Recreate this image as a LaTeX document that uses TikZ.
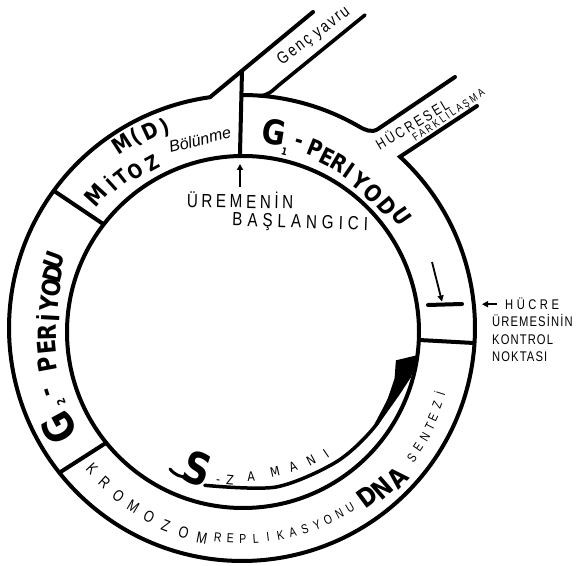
\documentclass[tikz,border=0pt]{standalone}
\usepackage{fontspec}
\setmainfont{Liberation Sans}
\newfontfamily\hand[FakeStretch=0.8]{Liberation Sans}
\newfontfamily\handbf[FakeStretch=0.85]{DejaVu Sans}
\usetikzlibrary{calc,arrows.meta}
\newcommand\arcletters[5]{%
  \foreach \ch/\aa/\rr [count=\k] in {#5}{%
    \node[#4, rotate={\aa+(#3)}] (#1\k) at ($(#2)+(\aa:\rr)$) {\ch};
  }%
}
\tikzset{
  ring/.style={line width=4pt},
  wall/.style={line width=3.6pt, line cap=round},
  hbf/.style={font={\handbf\bfseries\fontsize{#1}{#1}\selectfont}, inner sep=0pt},
  hm/.style={font={\handbf\fontsize{#1}{#1}\selectfont}, inner sep=0pt},
  hn/.style={font={\hand\fontsize{#1}{#1}\selectfont}, inner sep=0pt},
  tip/.style={-{Triangle[length=6pt,width=6pt]}},
}
\begin{document}
\begin{tikzpicture}[x=1pt,y=1pt]
\useasboundingbox (0,0) rectangle (578,565);
\coordinate (O) at (242,237);
\coordinate (I) at (243,233);

% inner circle
\draw[ring] (I) circle[radius=176pt];

% main outer contour with channel walls
\coordinate (hl) at (477,459);
\coordinate (gl) at (313,553);
\draw[ring, line cap=round] (hl) -- ($(O)+(47.3:233)$) arc[start angle=47.3, end angle=-262.1, radius=233pt] -- (gl);

% G1 top arc and upper wall of the differentiation channel
\coordinate (hu) at (455,488);
\draw[ring, line cap=round] ($(O)+(90:233)$) arc[start angle=90, end angle=60, radius=233pt] to[out=-30,in=213] (378,436) -- (hu);

% right wall of the offspring channel
\coordinate (gr) at (365,550);
\draw[wall] (gr) -- (279,480) to[out=221,in=-5] ($(O)+(86:233)$);

% dividers
\coordinate (dtop) at (242,494.3);
\draw[ring] ($(I)+(91:176)$) -- (dtop);
\draw[ring] ($(O)+(143.9:233)$) -- ($(I)+(142.3:176)$);
\draw[ring] ($(O)+(218.4:233)$) -- ($(I)+(219:176)$);
\draw[ring] ($(O)+(-3.7:233)$) -- ($(I)+(-2.6:176)$);

% S-phase inner arc and wedge
\begin{scope}[shift={(243,233)}]
  \draw[line width=3.5pt, line cap=round] plot[smooth] coordinates {(256:158) (282:158.5) (306:160) (325:162.3) (340:161)};
  \fill (325:160.5) -- (335:159.5) -- (343:158.5) -- (349.5:155.5) -- (352.5:176.5) -- (345:174) -- (338:168.5) -- (331:165) -- (325:164) -- cycle;
\end{scope}

% G1 label
\node[hbf=34, rotate=-9.3] (G1g) at ($(O)+(80.7:198.6)$) {G};
\node[hbf=10, rotate=-13.5] (G1s) at ($(O)+(76.5:181)$) {1};
\arcletters{gone}{O}{-90}{hbf=23}{-/72.8/193, P/67.9/194, E/63.6/191, R/59.5/191, I/55.7/190, Y/51.2/188, O/45.6/188, D/40/190, U/35/195}

% G2 label
\node[hbf=42, rotate=118.6] (G2g) at ($(O)+(208.6:208.5)$) {G};
\node[hbf=11, rotate=112.2] (G2s) at ($(O)+(202.2:195.5)$) {2};
\arcletters{gtwo}{O}{-90}{hbf=25}{-/198.4/202, P/190.5/198, E/185.6/196, R/181.2/195, İ/176.9/194, Y/172.9/194.5, O/168.2/195, D/163.8/197, U/160.1/200}

% M(D) MITOZ
\arcletters{md}{O}{-90}{hbf=22}{M/123.1/219.7, {(}/119/218, D/115/217, {)}/111/215}
\node[hbf=24, rotate=47.7] (mitM) at ($(O)+(137.7:197.5)$) {M};
\arcletters{mit}{O}{-90}{hbf=20}{İ/132.3/195, T/128.5/193, O/124.3/190, Z/118.6/188}
\node[font={\itshape\fontsize{16}{16}\selectfont}, inner sep=0pt, rotate=14] (bol) at ($(O)+(102.6:193)$) {Bölünme};

% start of reproduction
\node[font={\hand\fontsize{19}{19}\selectfont\addfontfeature{LetterSpace=19}}, inner sep=0pt, anchor=base, rotate=-1] (ure) at (240,357) {ÜREMENİN};
\node[font={\hand\fontsize{19}{19}\selectfont\addfontfeature{LetterSpace=26}}, inner sep=0pt, anchor=base, rotate=-2] (bas) at (300,337) {BAŞLANGICI};
\coordinate (ua) at (240,378);
\coordinate (ub) at (240,401);
\draw[line width=1.6pt, tip] (ua) -- (ub);

% channels
\node[font={\hand\fontsize{17}{17}\selectfont\addfontfeature{LetterSpace=12}}, inner sep=0pt, rotate=37] (genc) at (314,529) {Genç yavru};
\node[font={\hand\fontsize{15}{15}\selectfont\addfontfeature{LetterSpace=16}}, inner sep=0pt, rotate=31] (huc) at (412,441) {HÜCRESEL};
\node[font={\hand\fontsize{11}{11}\selectfont\addfontfeature{LetterSpace=22}}, inner sep=0pt, rotate=34] (far) at (449,449) {FARKLILAŞMA};

% checkpoint
\coordinate (cb1) at (428,260);
\coordinate (cb2) at (462,261);
\draw[line width=4pt, line cap=round] (cb1) -- (cb2);
\coordinate (ca) at (432,303);
\coordinate (cc) at (442,263.5);
\draw[line width=1.8pt, tip] (ca) -- (cc);

\node[font={\hand\fontsize{14}{14}\selectfont\addfontfeature{LetterSpace=25}}, inner sep=0pt, anchor=base west] (k1) at (505,255) {HÜCRE};
\node[font={\hand\fontsize{14}{14}\selectfont\addfontfeature{LetterSpace=8}}, inner sep=0pt, anchor=base west] (k2) at (492,238) {ÜREMESİNİN};
\node[font={\hand\fontsize{14}{14}\selectfont\addfontfeature{LetterSpace=8}}, inner sep=0pt, anchor=base west] (k3) at (492,220) {KONTROL};
\node[font={\hand\fontsize{14}{14}\selectfont\addfontfeature{LetterSpace=8}}, inner sep=0pt, anchor=base west] (k4) at (492,203) {NOKTASI};
\coordinate (ka) at ($(k1.west)+(-8,0)$);
\coordinate (kb) at ($(k1.west)+(-23,0)$);
\draw[line width=1.8pt, tip] (ka) -- (kb);

% S-ZAMANI
\node[hbf=44, rotate=-18.6] (Sbig) at ($(I)+(251.4:144.5)$) {S};
\draw[line width=3pt, line cap=round] (170,96) .. controls (175,90) and (180,88) .. (187,88);
\arcletters{zam}{I}{90}{hm=13}{-/260.5/152, Z/265/148.6, A/273.2/145, M/282.9/143.6, A/290.3/144, N/298/145, I/304.2/147.6}

% bottom ring text
\arcletters{kro}{O}{90}{hn=16}{K/223.3/206, R/228.4/207.1, O/233.6/208.3, M/238.7/209.4, O/243.8/210.6, Z/248.9/211.7, O/254.1/212.9, M/259.2/214}
\arcletters{rep}{O}{90}{hn=13}{R/263.4/211, E/266.8/211, P/270.2/211, L/273.7/211, I/277.1/211, K/280.5/211, A/283.9/211, S/287.3/211, Y/290.8/211, O/294.2/210, N/297.6/210, U/301/210}
\arcletters{dna}{O}{90}{hbf=26}{D/306.5/210, N/311.3/213, A/316/216}
\arcletters{sen}{O}{90}{hn=13}{S/322.6/214, E/326/212.5, N/329.2/213, T/332.2/212.5, E/335/210.7, Z/338.5/209.6, İ/341.8/208}
\end{tikzpicture}
\end{document}
